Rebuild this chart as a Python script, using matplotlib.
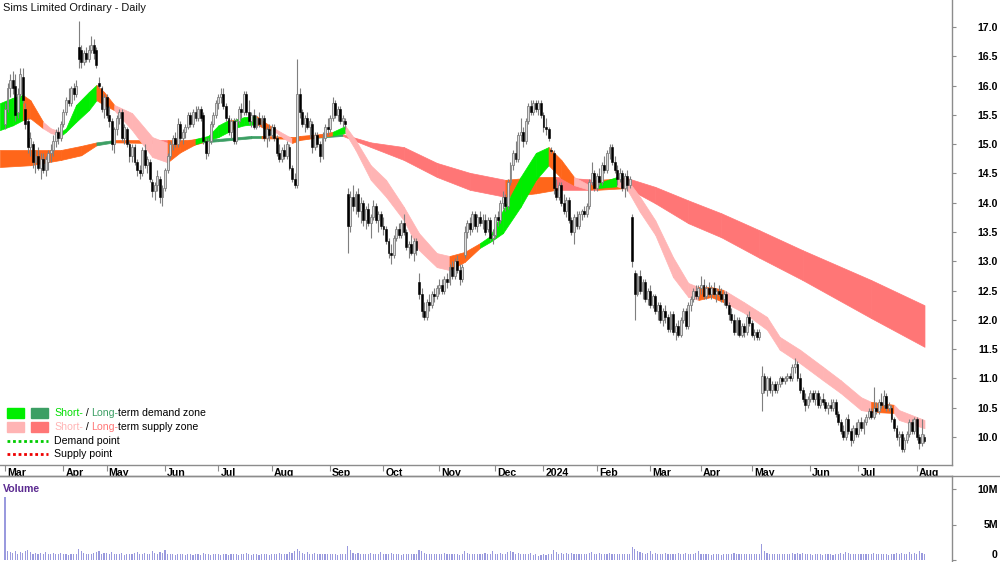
import matplotlib
matplotlib.use("Agg")
import matplotlib.pyplot as plt
import matplotlib.transforms as mtransforms
from matplotlib.lines import Line2D
from matplotlib.patches import Rectangle
import numpy as np
import pandas as pd

plt.rcParams["font.family"] = ["Liberation Sans", "DejaVu Sans"]

# ------------------------------------------------------------------ data
TITLE = "Sims Limited Ordinary - Daily"
START, END = "2023-03-01", "2024-08-06"
ASX_HOLIDAYS = ["2023-04-07", "2023-04-10", "2023-04-25", "2023-06-12", "2023-12-25",
                "2023-12-26", "2024-01-01", "2024-01-26", "2024-03-29", "2024-04-01",
                "2024-04-25", "2024-06-10"]

opens = [
    15.35, 15.60, 15.95, 16.10, 16.00, 15.55, 15.85, 16.15, 15.60, 15.40, 14.95, 15.00, 14.70, 14.80, 14.60, 14.75, 14.55, 14.70, 14.85, 14.90, 15.05, 15.20, 15.10,
    15.35, 15.55, 15.75, 15.70, 15.95, 15.85, 16.65, 16.60, 16.40, 16.55, 16.45, 16.60, 16.70, 16.60, 16.05, 15.95, 15.60,
    15.80, 15.50, 15.40, 15.00, 15.25, 15.45, 15.55, 15.10, 15.25, 15.00, 14.80, 14.95, 14.70, 14.55, 14.50, 14.90, 14.65, 14.70, 14.35, 14.20, 14.30, 14.40, 14.10,
    14.25, 14.55, 14.80, 15.00, 15.10, 15.00, 15.35, 15.10, 15.20, 15.30, 15.50, 15.35, 15.55, 15.45, 15.60, 15.50, 15.05, 14.85, 15.05, 15.35, 15.50,
    15.70, 15.80, 15.85, 15.65, 15.45, 15.20, 15.40, 15.05, 15.40, 15.60, 15.55, 15.85, 15.55, 15.40, 15.50, 15.30, 15.45, 15.35, 15.45, 15.10, 15.25,
    15.15, 15.30, 15.10, 14.85, 14.75, 14.90, 14.80, 14.95, 14.60, 14.40, 14.30, 15.85, 15.55, 15.35, 15.45, 15.30, 15.35, 14.95, 15.15, 15.00, 14.80, 15.10, 15.30,
    15.25, 15.45, 15.70, 15.50, 15.60, 15.40, 15.40, 14.15, 13.60, 14.10, 13.95, 14.15, 13.85, 14.00, 13.70, 13.90, 13.65, 13.75, 13.95, 13.70, 13.80,
    13.60, 13.55, 13.35, 13.15, 13.10, 13.40, 13.55, 13.45, 13.65, 13.50, 13.25, 13.30, 13.15, 13.35, 12.65, 12.45, 12.15, 12.05, 12.30, 12.25, 12.45, 12.40,
    12.55, 12.60, 12.50, 12.70, 12.65, 12.90, 12.75, 13.00, 12.85, 12.70, 13.10, 13.50, 13.65, 13.55, 13.80, 13.60, 13.75, 13.65, 13.70, 13.55, 13.70, 13.40,
    13.45, 13.75, 13.70, 14.00, 14.10, 13.95, 14.35, 14.65, 14.85, 14.75, 15.15, 15.20, 15.05, 15.40, 15.65, 15.55, 15.70, 15.60, 15.70,
    15.50, 15.30, 15.25, 14.90, 14.85, 14.25, 14.10, 14.30, 14.00, 13.85, 14.05, 13.70, 13.50, 13.75, 13.60, 13.80, 13.85, 13.80, 13.95, 14.35, 14.50,
    14.25, 14.45, 14.35, 14.65, 14.55, 14.85, 14.95, 14.70, 14.55, 14.40, 14.50, 14.25, 14.45, 14.30, 13.75, 12.80, 12.45, 12.75, 12.50, 12.65, 12.35,
    12.50, 12.25, 12.40, 12.15, 12.25, 12.00, 12.15, 12.05, 11.85, 12.10, 11.80, 11.90, 11.75, 12.00, 12.15, 11.90, 12.25, 12.35, 12.50, 12.40,
    12.55, 12.60, 12.40, 12.55, 12.45, 12.55, 12.45, 12.50, 12.45, 12.35, 12.45, 12.25, 12.10, 12.00, 11.80, 12.00, 11.75, 11.90, 11.80, 12.05,
    11.95, 11.75, 11.80, 11.70, 10.75, 11.05, 10.80, 11.00, 10.80, 10.90, 10.80, 10.90, 11.00, 10.95, 11.00, 11.05, 11.00, 11.20, 11.25, 11.00, 10.80, 10.65, 10.55,
    10.65, 10.75, 10.65, 10.75, 10.55, 10.65, 10.60, 10.50, 10.55, 10.50, 10.60, 10.40, 10.25, 10.10, 10.00, 10.30, 10.10, 9.95, 10.15,
    10.05, 10.25, 10.15, 10.25, 10.35, 10.45, 10.35, 10.50, 10.45, 10.60, 10.55, 10.70, 10.50, 10.50, 10.30, 10.15, 10.00, 10.05, 9.80, 9.95, 10.05, 10.25, 10.10,
    10.30, 10.00, 9.90, 10.00,
]
highs = [
    15.70, 16.05, 16.20, 16.25, 16.20, 15.95, 16.30, 16.30, 15.70, 15.45, 15.20, 15.05, 14.90, 14.95, 14.85, 14.85, 14.80, 14.90, 15.00, 15.15, 15.25, 15.30, 15.40,
    15.60, 15.80, 15.95, 16.00, 16.05, 16.10, 17.10, 16.70, 16.60, 16.65, 16.70, 16.85, 16.80, 16.65, 16.15, 16.00, 15.85,
    15.85, 15.65, 15.45, 15.30, 15.50, 15.60, 15.60, 15.35, 15.30, 15.05, 15.00, 15.00, 14.75, 14.65, 14.95, 15.00, 14.80, 14.75, 14.40, 14.35, 14.55, 14.45, 14.30,
    14.60, 14.85, 15.05, 15.15, 15.20, 15.45, 15.40, 15.25, 15.35, 15.55, 15.55, 15.60, 15.65, 15.65, 15.65, 15.55, 15.10, 15.10, 15.40, 15.55, 15.75,
    15.85, 15.95, 15.95, 15.70, 15.50, 15.45, 15.45, 15.45, 15.65, 15.70, 15.90, 15.90, 15.75, 15.55, 15.60, 15.50, 15.55, 15.50, 15.50, 15.30, 15.35,
    15.35, 15.35, 15.15, 15.00, 14.95, 15.00, 15.05, 15.00, 14.65, 14.50, 16.45, 15.95, 15.60, 15.50, 15.55, 15.45, 15.40, 15.20, 15.20, 15.05, 15.20, 15.35, 15.45,
    15.50, 15.80, 15.75, 15.65, 15.65, 15.50, 15.45, 14.25, 14.20, 14.30, 14.20, 14.25, 14.10, 14.05, 13.95, 14.00, 13.80, 14.05, 14.00, 13.85, 13.85,
    13.75, 13.60, 13.40, 13.30, 13.45, 13.60, 13.65, 13.70, 13.80, 13.55, 13.35, 13.45, 13.40, 13.40, 12.80, 12.55, 12.30, 12.35, 12.45, 12.50, 12.55, 12.60,
    12.70, 12.70, 12.75, 12.80, 12.95, 13.00, 13.05, 13.10, 12.95, 12.95, 13.60, 13.70, 13.75, 13.85, 13.85, 13.80, 13.85, 13.80, 13.80, 13.75, 13.75, 13.55,
    13.80, 13.85, 14.05, 14.20, 14.15, 14.40, 14.70, 14.90, 15.05, 15.20, 15.45, 15.30, 15.45, 15.70, 15.75, 15.75, 15.75, 15.75, 15.75,
    15.55, 15.45, 15.30, 14.95, 14.90, 14.40, 14.35, 14.35, 14.15, 14.10, 14.10, 13.75, 13.80, 13.85, 13.85, 13.90, 13.95, 14.00, 14.40, 14.70, 14.55,
    14.50, 14.60, 14.70, 14.80, 14.90, 15.00, 15.00, 14.80, 14.65, 14.60, 14.55, 14.50, 14.55, 14.45, 13.80, 12.85, 12.80, 12.85, 12.70, 12.70, 12.55,
    12.60, 12.45, 12.45, 12.30, 12.30, 12.20, 12.25, 12.10, 12.15, 12.15, 11.95, 12.00, 12.05, 12.20, 12.20, 12.30, 12.40, 12.55, 12.60, 12.60,
    12.75, 12.70, 12.60, 12.65, 12.60, 12.65, 12.55, 12.60, 12.55, 12.50, 12.50, 12.30, 12.20, 12.10, 12.05, 12.05, 11.95, 11.95, 12.10, 12.15,
    12.00, 11.85, 11.85, 11.85, 11.22, 11.10, 11.05, 11.05, 10.95, 10.95, 10.95, 11.05, 11.05, 11.05, 11.10, 11.10, 11.25, 11.35, 11.30, 11.10, 10.85, 10.75, 10.70,
    10.80, 10.80, 10.80, 10.80, 10.70, 10.75, 10.65, 10.60, 10.65, 10.65, 10.65, 10.45, 10.30, 10.20, 10.35, 10.40, 10.15, 10.20, 10.25,
    10.30, 10.35, 10.30, 10.40, 10.50, 10.50, 10.85, 10.60, 10.65, 10.75, 10.80, 10.75, 10.60, 10.55, 10.35, 10.20, 10.10, 10.10, 10.00, 10.10, 10.30, 10.30, 10.35,
    10.35, 10.05, 10.30, 10.05,
]
lows = [
    15.25, 15.55, 15.80, 15.85, 15.40, 15.45, 15.80, 15.70, 15.25, 14.85, 14.80, 14.60, 14.50, 14.55, 14.40, 14.50, 14.45, 14.55, 14.70, 14.80, 14.95, 15.00, 15.05,
    15.30, 15.50, 15.65, 15.65, 15.75, 15.80, 16.30, 16.30, 16.35, 16.40, 16.40, 16.55, 16.45, 16.30, 15.95, 15.55, 15.45,
    15.45, 15.30, 14.90, 14.85, 15.15, 15.35, 15.05, 15.00, 14.95, 14.70, 14.70, 14.65, 14.45, 14.40, 14.45, 14.60, 14.50, 14.35, 14.10, 14.05, 14.20, 14.00, 13.95,
    14.20, 14.50, 14.75, 14.90, 14.95, 14.95, 15.05, 15.00, 15.10, 15.25, 15.30, 15.30, 15.40, 15.40, 15.40, 15.00, 14.75, 14.80, 15.00, 15.30, 15.45,
    15.60, 15.70, 15.60, 15.40, 15.15, 15.10, 15.00, 15.00, 15.35, 15.45, 15.50, 15.50, 15.35, 15.30, 15.25, 15.25, 15.30, 15.30, 15.05, 14.95, 15.05,
    15.10, 15.05, 14.80, 14.70, 14.70, 14.75, 14.75, 14.55, 14.35, 14.25, 14.25, 15.45, 15.30, 15.20, 15.25, 15.10, 14.85, 14.90, 14.95, 14.70, 14.75, 15.05, 15.15,
    15.20, 15.40, 15.45, 15.40, 15.35, 15.30, 15.25, 13.15, 13.50, 13.85, 13.80, 13.75, 13.65, 13.60, 13.55, 13.60, 13.40, 13.70, 13.65, 13.50, 13.55,
    13.45, 13.30, 13.05, 12.95, 13.05, 13.35, 13.40, 13.40, 13.45, 13.20, 13.05, 13.10, 13.00, 13.10, 12.35, 12.05, 12.00, 12.00, 12.15, 12.20, 12.30, 12.35,
    12.45, 12.45, 12.45, 12.55, 12.60, 12.70, 12.70, 12.80, 12.60, 12.65, 13.05, 13.40, 13.45, 13.50, 13.55, 13.50, 13.60, 13.55, 13.45, 13.50, 13.35, 13.30,
    13.40, 13.60, 13.65, 13.90, 13.85, 13.90, 14.30, 14.55, 14.70, 14.70, 15.05, 14.95, 15.00, 15.35, 15.50, 15.50, 15.55, 15.50, 15.45,
    15.20, 15.15, 15.05, 14.85, 14.15, 14.05, 14.05, 13.95, 13.80, 13.75, 13.65, 13.45, 13.30, 13.55, 13.55, 13.70, 13.75, 13.75, 13.90, 14.30, 14.20,
    14.20, 14.30, 14.30, 14.50, 14.50, 14.75, 14.65, 14.50, 14.30, 14.35, 14.20, 14.10, 14.20, 14.25, 12.90, 12.00, 12.40, 12.45, 12.35, 12.30, 12.25,
    12.20, 12.20, 12.10, 12.00, 11.95, 11.90, 11.95, 11.80, 11.80, 11.75, 11.65, 11.70, 11.70, 11.95, 11.85, 11.85, 12.15, 12.30, 12.35, 12.35,
    12.45, 12.35, 12.35, 12.40, 12.35, 12.40, 12.30, 12.40, 12.30, 12.25, 12.20, 12.00, 11.95, 11.75, 11.75, 11.70, 11.70, 11.70, 11.75, 11.90,
    11.70, 11.65, 11.65, 11.65, 10.45, 10.75, 10.70, 10.75, 10.70, 10.75, 10.75, 10.85, 10.90, 10.90, 10.95, 10.95, 10.95, 11.10, 10.95, 10.75, 10.60, 10.45, 10.50,
    10.60, 10.60, 10.55, 10.50, 10.50, 10.55, 10.45, 10.40, 10.45, 10.45, 10.35, 10.20, 10.05, 9.95, 9.95, 10.05, 9.85, 9.90, 10.00,
    10.00, 10.10, 10.05, 10.20, 10.30, 10.30, 10.30, 10.40, 10.40, 10.50, 10.50, 10.45, 10.45, 10.25, 10.10, 9.95, 9.85, 9.75, 9.75, 9.90, 10.00, 10.05, 10.05,
    9.95, 9.80, 9.85, 9.90,
]
closes = [
    15.60, 15.95, 16.10, 15.95, 15.50, 15.85, 16.20, 15.75, 15.35, 14.95, 15.10, 14.70, 14.80, 14.60, 14.75, 14.55, 14.75, 14.85, 14.90, 15.05, 15.20, 15.10, 15.35,
    15.55, 15.75, 15.70, 15.95, 15.85, 16.00, 16.45, 16.40, 16.55, 16.45, 16.60, 16.70, 16.55, 16.35, 16.00, 15.60, 15.80,
    15.50, 15.40, 15.00, 15.25, 15.45, 15.55, 15.10, 15.30, 15.00, 14.80, 14.95, 14.70, 14.55, 14.50, 14.90, 14.65, 14.75, 14.40, 14.20, 14.30, 14.45, 14.10, 14.25,
    14.55, 14.80, 15.00, 15.10, 15.00, 15.35, 15.10, 15.20, 15.30, 15.50, 15.35, 15.55, 15.45, 15.60, 15.45, 15.05, 14.85, 15.05, 15.35, 15.50, 15.70,
    15.80, 15.85, 15.65, 15.45, 15.20, 15.40, 15.05, 15.40, 15.60, 15.55, 15.85, 15.55, 15.40, 15.50, 15.30, 15.45, 15.35, 15.45, 15.10, 15.25, 15.15,
    15.30, 15.10, 14.85, 14.75, 14.90, 14.80, 15.00, 14.60, 14.40, 14.30, 15.85, 15.55, 15.35, 15.45, 15.30, 15.40, 14.95, 15.15, 15.00, 14.80, 15.10, 15.30, 15.25,
    15.45, 15.70, 15.50, 15.60, 15.40, 15.45, 15.35, 13.60, 14.10, 13.95, 14.15, 13.85, 14.00, 13.70, 13.90, 13.65, 13.75, 13.95, 13.70, 13.80, 13.60,
    13.55, 13.35, 13.15, 13.10, 13.40, 13.55, 13.45, 13.65, 13.50, 13.25, 13.30, 13.15, 13.35, 13.20, 12.45, 12.15, 12.05, 12.30, 12.25, 12.45, 12.40, 12.55,
    12.60, 12.50, 12.70, 12.65, 12.90, 12.75, 13.00, 12.85, 12.70, 12.90, 13.50, 13.65, 13.55, 13.80, 13.60, 13.75, 13.65, 13.70, 13.50, 13.70, 13.40, 13.45,
    13.75, 13.70, 14.00, 14.10, 13.95, 14.35, 14.65, 14.85, 14.75, 15.15, 15.20, 15.05, 15.40, 15.65, 15.55, 15.70, 15.60, 15.70, 15.50,
    15.30, 15.25, 15.10, 14.88, 14.25, 14.10, 14.30, 14.00, 13.85, 14.05, 13.70, 13.50, 13.75, 13.60, 13.80, 13.85, 13.80, 13.95, 14.35, 14.50, 14.25,
    14.45, 14.35, 14.65, 14.55, 14.85, 14.95, 14.70, 14.55, 14.40, 14.50, 14.25, 14.45, 14.30, 14.40, 13.00, 12.45, 12.75, 12.50, 12.65, 12.35, 12.50,
    12.25, 12.40, 12.15, 12.25, 12.00, 12.15, 12.05, 11.85, 12.10, 11.80, 11.90, 11.75, 12.00, 12.15, 11.90, 12.25, 12.35, 12.50, 12.40, 12.55,
    12.60, 12.40, 12.55, 12.45, 12.55, 12.45, 12.50, 12.45, 12.35, 12.45, 12.25, 12.10, 12.00, 11.80, 12.00, 11.75, 11.90, 11.80, 12.05, 11.95,
    11.75, 11.80, 11.70, 11.80, 11.05, 10.80, 11.00, 10.80, 10.90, 10.80, 10.90, 11.00, 10.95, 11.00, 11.05, 11.00, 11.20, 11.25, 11.00, 10.80, 10.65, 10.55, 10.65,
    10.75, 10.65, 10.75, 10.55, 10.65, 10.60, 10.50, 10.55, 10.50, 10.60, 10.40, 10.25, 10.10, 10.00, 10.30, 10.10, 9.95, 10.15, 10.05,
    10.25, 10.15, 10.25, 10.35, 10.45, 10.35, 10.50, 10.45, 10.60, 10.55, 10.70, 10.50, 10.55, 10.30, 10.15, 10.00, 10.05, 9.80, 9.95, 10.05, 10.25, 10.10, 10.30,
    10.00, 9.90, 10.05, 9.93,
]
# daily volume, millions of shares
volume_m = [
    8.9, 1.3, 1.1, 1.0, 1.2, 0.9, 1.1, 1.0, 1.3, 1.4, 1.1, 0.9, 1.0, 0.8, 1.0, 0.9, 1.1, 0.8, 0.9, 1.0, 0.8, 0.9, 1.0,
    0.8, 0.9, 0.7, 0.8, 0.9, 0.8, 1.5, 1.2, 1.0, 0.9, 0.8, 0.9, 1.0, 1.1, 1.2, 0.9, 1.0,
    1.0, 0.9, 1.1, 0.8, 0.9, 0.8, 1.0, 0.7, 0.9, 0.8, 0.9, 1.0, 1.1, 0.9, 0.8, 1.0, 0.9, 0.8, 1.2, 1.0, 0.9, 1.1, 1.0,
    1.4, 0.9, 0.8, 0.9, 0.7, 0.8, 0.9, 0.8, 0.7, 0.9, 0.8, 0.7, 0.8, 0.9, 0.7, 1.0, 0.9, 0.8, 0.7, 0.8, 0.9,
    0.8, 0.7, 0.8, 0.9, 0.7, 0.8, 0.9, 0.8, 0.7, 0.8, 0.9, 1.0, 0.8, 0.7, 0.8, 0.9, 0.7, 0.8, 0.9, 0.8, 0.7,
    0.8, 0.9, 0.8, 1.0, 0.9, 0.8, 0.9, 1.1, 1.0, 1.2, 1.6, 1.3, 1.0, 0.9, 1.1, 0.9, 0.8, 1.0, 0.9, 0.8, 0.9, 0.8, 0.9,
    0.8, 0.9, 0.8, 0.7, 0.8, 0.9, 0.8, 2.0, 1.4, 1.0, 0.9, 1.0, 0.8, 0.9, 0.8, 0.9, 1.0, 0.8, 0.9, 0.8, 1.1,
    0.9, 0.8, 0.9, 1.0, 0.8, 0.9, 0.8, 0.7, 0.8, 0.9, 0.8, 0.9, 0.8, 0.9, 1.4, 1.2, 1.0, 0.9, 0.8, 0.9, 0.8, 0.9,
    0.8, 0.9, 1.0, 0.8, 0.9, 0.8, 0.9, 0.8, 0.7, 0.9, 1.3, 1.0, 0.9, 0.8, 0.9, 0.8, 0.9, 0.8, 1.0, 0.9, 0.8, 1.2,
    0.9, 0.8, 1.0, 0.9, 0.8, 1.1, 1.2, 1.1, 0.9, 1.0, 0.9, 0.8, 0.9, 0.8, 1.0, 0.7, 0.8, 0.6, 0.7,
    0.8, 0.7, 0.9, 0.8, 1.4, 1.1, 0.9, 1.0, 0.9, 1.0, 0.9, 1.0, 0.9, 0.8, 0.9, 0.8, 0.9, 0.8, 1.0, 1.1, 0.9,
    0.9, 1.0, 0.9, 0.8, 0.9, 1.0, 0.9, 0.8, 0.9, 0.8, 0.9, 0.8, 0.9, 0.8, 1.9, 1.5, 1.2, 1.1, 1.0, 0.9, 1.0,
    1.2, 0.9, 1.0, 0.9, 0.8, 0.9, 1.0, 0.8, 0.9, 0.8, 0.9, 1.0, 0.9, 0.8, 1.0, 0.9, 0.8, 0.9, 1.0, 1.3,
    0.9, 0.8, 0.9, 0.8, 0.7, 0.8, 0.9, 0.8, 0.7, 0.8, 0.9, 0.8, 0.9, 1.0, 0.9, 0.8, 0.9, 0.8, 0.9, 0.8,
    0.9, 0.8, 0.9, 0.8, 2.2, 1.3, 1.0, 0.9, 0.8, 0.9, 0.8, 0.9, 0.8, 0.9, 0.8, 0.9, 1.0, 0.9, 1.0, 0.9, 1.0, 0.9, 0.8,
    0.8, 0.7, 0.8, 0.9, 0.8, 0.7, 0.8, 0.9, 0.8, 0.7, 0.8, 0.9, 1.0, 0.9, 1.1, 1.0, 0.9, 0.8, 0.9,
    0.8, 0.9, 0.8, 0.9, 0.8, 0.9, 1.0, 0.8, 0.9, 0.8, 0.9, 0.8, 0.7, 0.8, 0.9, 1.0, 0.9, 1.0, 0.9, 0.8, 1.1, 0.9, 1.0,
    0.9, 1.2, 1.0, 0.8,
]

# short-term zone (fast averages): day index, upper and lower edge, state at that point
short_idx = [-2, 3, 7, 10, 15, 18, 22, 24, 28, 33, 36, 39, 43, 50, 58, 64, 69, 75, 80, 84,
             88, 90, 94, 99, 102, 106, 110, 113, 116, 124, 129, 134, 138, 144, 150, 157, 163, 170, 175, 181,
             187, 191, 196, 203, 209, 214, 219, 224, 230, 233, 241, 245, 250, 256, 263, 269, 273, 278, 283, 291,
             300, 305, 313, 322, 329, 337, 341, 350, 352, 362]
short_top = [15.70, 15.79, 15.84, 15.75, 15.38, 15.27, 15.21, 15.27, 15.67, 15.89, 16.01, 15.89, 15.67, 15.53, 15.12,
             15.02, 15.03, 15.09, 15.14, 15.32, 15.41, 15.41, 15.46, 15.48, 15.38, 15.27, 15.17, 15.10, 15.14, 15.17,
             15.21, 15.31, 15.07, 14.64, 14.39, 13.93, 13.48, 13.14, 13.09, 13.16, 13.31, 13.43, 13.87, 14.44, 14.85,
             14.95, 14.73, 14.44, 14.30, 14.33, 14.44, 14.39, 14.10, 13.70, 13.07, 12.63, 12.56, 12.56, 12.51, 12.30,
             12.05, 11.71, 11.49, 11.20, 10.97, 10.68, 10.60, 10.55, 10.46, 10.29]
short_bot = [15.24, 15.32, 15.41, 15.44, 15.27, 15.19, 15.14, 15.21, 15.38, 15.58, 15.75, 15.67, 15.58, 15.24, 14.78,
             14.69, 14.86, 15.00, 15.07, 15.12, 15.21, 15.27, 15.32, 15.34, 15.27, 15.22, 15.09, 15.02, 15.07, 15.12,
             15.15, 15.19, 14.90, 14.39, 14.10, 13.70, 13.19, 12.90, 12.85, 12.99, 13.23, 13.33, 13.48, 13.93, 14.39,
             14.64, 14.42, 14.30, 14.22, 14.25, 14.28, 14.22, 13.84, 13.45, 12.73, 12.39, 12.34, 12.39, 12.30, 12.12,
             11.83, 11.49, 11.26, 10.97, 10.75, 10.46, 10.43, 10.41, 10.29, 10.15]
short_state = list("GGOOPPGGGG" "OOPPPOOGGG" "OGGOOPPOOO" "GPPPPPPPOO"
                   "GGGGGOOPOG" "PPPPPPOOPP" "PPPPPPOPPP")

# long-term zone (slow averages)
long_idx = [-2, 10, 22, 30, 36, 43, 57, 64, 71, 78, 84, 97, 101, 116, 133, 144,
            157, 170, 183, 197, 209, 217, 233, 245, 256, 269, 282, 297, 314, 341, 362]
long_top = [14.90, 14.90, 14.90, 14.97, 15.03, 15.07, 15.07, 15.07, 15.07, 15.09, 15.09, 15.14, 15.14, 15.12,
            15.17, 15.03, 14.95, 14.68, 14.51, 14.39, 14.44, 14.44, 14.39, 14.42, 14.27, 14.04, 13.82, 13.53,
            13.19, 12.68, 12.25]
long_bot = [14.61, 14.64, 14.73, 14.81, 14.98, 15.03, 15.02, 15.00, 14.95, 15.03, 15.05, 15.10, 15.10, 15.09,
            15.14, 14.95, 14.73, 14.44, 14.22, 14.10, 14.16, 14.22, 14.22, 14.25, 13.99, 13.65, 13.41, 13.06,
            12.68, 12.03, 11.54]
long_state = list("OOOODOROOD" "DDODRRRRRO" "ORORRRRRRR" "R")

# ------------------------------------------------------------------ style
W, H = 1000, 562
ZONE_COLORS = {"G": "#00ee00", "D": "#3c9f64", "O": "#ff661a", "P": "#ffb4b4", "R": "#ff7676"}
UP_FILL, EDGE = "#dcdcdc", "#7f7f7f"
AXIS_GRAY = "#8c8c8c"
FS = 7.6


def fx(px):
    return px / W


def fy(py):
    return 1 - py / H


dates = pd.bdate_range(START, END)
dates = dates[~dates.isin(pd.to_datetime(ASX_HOLIDAYS))]
x = np.arange(len(dates))
o, h, l, c = map(np.asarray, (opens, highs, lows, closes))

fig = plt.figure(figsize=(W / 100, H / 100), dpi=100)
ax = fig.add_axes([0, fy(465), fx(952), 465 / H])
axv = fig.add_axes([0, 0, fx(952), (H - 476) / H], sharex=ax)

# zones: long first, short on top
for idx, top, bot, state, z in [(long_idx, long_top, long_bot, long_state, 1),
                                (short_idx, short_top, short_bot, short_state, 2)]:
    for k in range(len(idx) - 1):
        col = ZONE_COLORS[state[k]]
        ax.fill_between(idx[k:k + 2], top[k:k + 2], bot[k:k + 2], color=col,
                        lw=0.5, edgecolor=col, zorder=z)

# candles
up = c >= o
ax.vlines(x, l, h, color=EDGE, lw=0.8, zorder=3)
body = np.maximum(np.abs(c - o), 0.015)
ax.bar(x[up], body[up], bottom=np.minimum(o, c)[up], width=0.75,
       color=UP_FILL, edgecolor=EDGE, lw=0.6, zorder=4)
ax.bar(x[~up], body[~up], bottom=np.minimum(o, c)[~up], width=0.75,
       color="black", edgecolor="black", lw=0.4, zorder=4)

ax.set_xlim(-5 / 2.54, (952 - 5) / 2.54)
ax.set_ylim(10 - 28 / 58.6, 17 + 27 / 58.6)

for a in (ax, axv):
    a.spines["left"].set_visible(False)
    for s in ("right", "bottom", "top"):
        a.spines[s].set_color(AXIS_GRAY)
        a.spines[s].set_linewidth(1)
    a.yaxis.tick_right()
    a.tick_params(axis="y", direction="out", length=3, color=AXIS_GRAY, pad=30,
                  labelsize=FS)
ax.spines["top"].set_visible(False)
axv.spines["bottom"].set_visible(False)

ax.set_yticks(np.arange(10.0, 17.01, 0.5))
ax.set_yticklabels([f"{v:.1f}" for v in np.arange(10.0, 17.01, 0.5)],
                   fontweight="bold", ha="right")

# month ticks and labels
month_id = dates.year * 12 + dates.month
starts = np.flatnonzero(np.r_[True, np.diff(month_id) != 0])
labels = ["2024" if dates[s].month == 1 else dates[s].strftime("%b") for s in starts]
ax.set_xticks(starts)
ax.tick_params(axis="x", direction="out", length=4, color=AXIS_GRAY, labelbottom=False)
lab_tr = mtransforms.offset_copy(
    mtransforms.blended_transform_factory(ax.transData, ax.transAxes), fig=fig,
    x=2, y=-2.5, units="dots")
for s, lab in zip(starts, labels):
    ax.text(s, 0, lab, transform=lab_tr, ha="left", va="top", fontsize=FS,
            fontweight="bold", clip_on=False)

# volume
axv.bar(x, volume_m, width=0.45, color="#9a9ade", zorder=2)
axv.set_ylim(-2 / 7.1, (560 - 476) / 7.1)
axv.set_yticks([0, 5, 10])
vlabels = axv.set_yticklabels(["0", "5M", "10M"], fontweight="bold", ha="right")
vlabels[0].set_verticalalignment("bottom")   # keep the zero label inside the canvas
axv.tick_params(axis="x", length=0, labelbottom=False)
axv.text(3 / 952, (H - 489) / (H - 476), "Volume", transform=axv.transAxes,
         color="#5b2a90", fontsize=FS, fontweight="bold", va="center", ha="left")
fig.add_artist(Line2D([0, 1], [fy(476), fy(476)], color=AXIS_GRAY, lw=1,
                      transform=fig.transFigure))

# title
fig.text(fx(3), fy(8), TITLE, fontsize=FS + 0.3, ha="left", va="center", color="#111111")

# legend
renderer = fig.canvas.get_renderer()


def chained(px, py, pieces):
    for s, col in pieces:
        t = fig.text(fx(px), fy(py), s, color=col, fontsize=FS, ha="left", va="center")
        px = t.get_window_extent(renderer).x1


rows = [413, 427, 441, 454]
for py, c1, c2 in [(rows[0], ZONE_COLORS["G"], ZONE_COLORS["D"]),
                   (rows[1], ZONE_COLORS["P"], ZONE_COLORS["R"])]:
    for px0, col in [(7, c1), (31, c2)]:
        fig.add_artist(Rectangle((fx(px0), fy(py + 5)), 17 / W, 10 / H, color=col,
                                 transform=fig.transFigure))
chained(54, rows[0], [("Short-", "#00dd00"), (" / ", "black"), ("Long-", "#3c9f64"),
                      ("term demand zone", "black")])
chained(54, rows[1], [("Short-", "#ffb4b4"), (" / ", "black"), ("Long-", "#ff7676"),
                      ("term supply zone", "black")])
for py, col, lab in [(rows[2], "#00cc00", "Demand point"), (rows[3], "#ee0000", "Supply point")]:
    fig.add_artist(Line2D([fx(7), fx(48)], [fy(py), fy(py)], color=col, lw=2,
                          linestyle=(0, (1, 1)), transform=fig.transFigure))
    fig.text(fx(54), fy(py), lab, fontsize=FS, ha="left", va="center", color="black")

fig.savefig("out.png", dpi=100)
